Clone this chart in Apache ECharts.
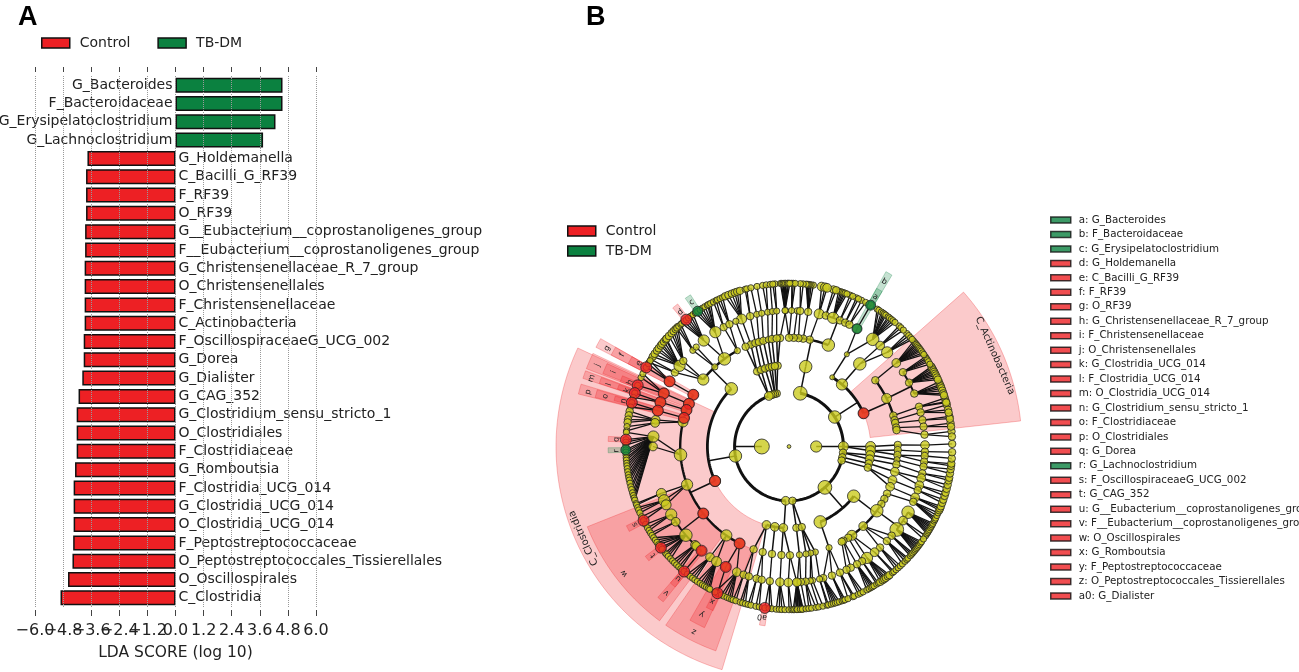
<!DOCTYPE html>
<html><head><meta charset="utf-8">
<style>html,body{margin:0;padding:0;background:#fff}#c{width:1299px;height:672px}</style>
<script src="https://cdn.jsdelivr.net/npm/echarts@6/dist/echarts.min.js"></script>
</head><body><div id="c"></div>
<script>
const categories=["G_Bacteroides","F_Bacteroidaceae","G_Erysipelatoclostridium","G_Lachnoclostridium","G_Holdemanella","C_Bacilli_G_RF39","F_RF39","O_RF39","G__Eubacterium__coprostanoligenes_group","F__Eubacterium__coprostanoligenes_group","G_Christensenellaceae_R_7_group","O_Christensenellales","F_Christensenellaceae","C_Actinobacteria","F_OscillospiraceaeG_UCG_002","G_Dorea","G_Dialister","G_CAG_352","G_Clostridium_sensu_stricto_1","O_Clostridiales","F_Clostridiaceae","G_Romboutsia","F_Clostridia_UCG_014","G_Clostridia_UCG_014","O_Clostridia_UCG_014","F_Peptostreptococcaceae","O_Peptostreptococcales_Tissierellales","O_Oscillospirales","C_Clostridia"];
const tbdmScores=[4.57,4.57,4.27,3.74,null,null,null,null,null,null,null,null,null,null,null,null,null,null,null,null,null,null,null,null,null,null,null,null,null];
const controlScores=[null,null,null,null,-3.76,-3.82,-3.82,-3.82,-3.86,-3.86,-3.88,-3.88,-3.88,-3.88,-3.92,-3.92,-3.98,-4.14,-4.22,-4.22,-4.22,-4.29,-4.35,-4.35,-4.35,-4.37,-4.40,-4.59,-4.91];
const keyNames=["a: G_Bacteroides","b: F_Bacteroidaceae","c: G_Erysipelatoclostridium","d: G_Holdemanella","e: C_Bacilli_G_RF39","f: F_RF39","g: O_RF39","h: G_Christensenellaceae_R_7_group","i: F_Christensenellaceae","j: O_Christensenellales","k: G_Clostridia_UCG_014","l: F_Clostridia_UCG_014","m: O_Clostridia_UCG_014","n: G_Clostridium_sensu_stricto_1","o: F_Clostridiaceae","p: O_Clostridiales","q: G_Dorea","r: G_Lachnoclostridium","s: F_OscillospiraceaeG_UCG_002","t: G_CAG_352","u: G__Eubacterium__coprostanoligenes_group","v: F__Eubacterium__coprostanoligenes_group","w: O_Oscillospirales","x: G_Romboutsia","y: F_Peptostreptococcaceae","z: O_Peptostreptococcales_Tissierellales","a0: G_Dialister"];
const keyTbdm=["a: G_Bacteroides","b: F_Bacteroidaceae","c: G_Erysipelatoclostridium","r: G_Lachnoclostridium"];

// Cladogram: each group = [parent angle, node size, child angles (or [angle,size]), optional 'arc']
const ring1=[[0,9,[[180,12],0],'none']];
const ring2=[
[180,6,[[190,10],103,105,107,109,[111.8,7],[266.5,7]],'arc'],
[0,6,[[78,11],[32.8,10],[0,8],-6.5,-11.5,-15,[-48.7,11],[-86.4,6]],'arc']];
const ring3=[
[190,9,[[135,10],205],'arc'],
[111.8,6,[113,110]],[107,6,[107]],[105,6,[104,102]],[103,6,[98,100]],
[78,10,[78.2]],
[32.8,8,[[49.5,9],[58,4],24],'arc'],
[0,8,[0,-3]],[-6.5,7,[-6,-9]],[-11.5,6,[-12]],[-15,6,[-15]],
[-48.7,10,[-37.5,-67.5],'arc'],
[-86.4,6,[-84.8,-81]],
[266.5,7,[254,260,266],'arc']];
const ring4=[
[135,8,[[142,9],[133,5],[126.4,10],[118.3,5]],'arc'],
[113,6,[110.5,113.5]],[110,6,[108]],[107,6,[106]],[104,6,[103.6]],[102,5,[101]],[100,6,[99]],[98,6,[94.7,96.5]],
[78.2,6,[[68.8,10],79,82.5,85,87.5,90],'arc'],
[49.5,10,[49.4]],[58,4,[57.9]],
[24,6,[37.5,[26.2,8],16.5,14,12.5,10,8.7],'arc'],
[0,6,[0.8]],[-3,6,[-1.9,-4.5]],[-6,5,[-7]],[-9,6,[-9.5]],[-12,7,[-13.4]],[-15,7,[-18,-21.7]],
[-37.5,6,[-25.7,-28.8,-31.9,[-36.2,10],[-47,7],[-54.7,8],-57,-60,-61],'arc'],
[-67.5,5,[-68.4]],
[-84.8,5,[-84.5]],[-81,5,[-76,-78.5,-81]],
[205,8,[151.6,156.9,160.4,164.8,167,[184.4,10],[200.5,9],218,[234.8,9],243],'arc'],
[254,6,[251,256]],[260,6,[261]],[266,6,[266,270.5]]];
const ring5=[
[142,6,[147,[143.6,9],141]],[133,5,[135,133]],[126.4,7,[[128.8,9],[122.8,9]]],[118.3,6,[118.7,116]],[110.5,6,[[110.4,8]]],[113.5,5,[113]],[108,6,[106.6]],[106,5,[103.7]],[103.6,5,[101.6]],[101,5,[99]],[99,5,[97]],[96.5,5,[95.2]],[94.7,5,[91.4]],
[90,5,[88.9,91.7]],[87.5,5,[86.5]],[85,6,[85.3]],[82.5,6,[81.9]],[79,8,[77.2]],
[68.8,6,[74.3,[71.1,9],68,65.6,63.6],'arc'],
[57.9,7,[60,[52,10]]],[49.4,7,[47.9,[43.8,9]]],
[37.5,7,[37.9]],[26.2,6,[33.1,28,22.9],'arc'],[16.5,6,[17]],[14,6,[14.5]],[12.5,6,[11.2]],[10,6,[8.4]],[8.7,6,[5]],
[0.8,7,[0.6]],[-1.9,6,[-2.2]],[-4.5,6,[-4,-6.4]],[-7,6,[-8.5]],[-9.5,6,[-11.4]],[-13.4,7,[-13.5,-16.6]],[-18,6,[-18.8]],[-21.7,7,[-22]],
[-25.7,6,[-24]],[-36.2,7,[[-28.9,10],[-37.6,11],-33],'arc'],[-47,6,[-41,-44,-48]],[-54.7,7,[[-55,9],-51]],[-57,6,[-57.5]],[-60,6,[-60,-63]],[-61,6,[-65]],[-68.4,6,[-68,-71.6,-75.4]],
[-76,5,[-77]],[-78.5,5,[-80,-81]],[-81,6,[-83]],[-84.5,6,[-86.5,-85]],
[151.6,8,[151.4]],[156.9,8,[157]],[160.4,8,[161]],[164.8,8,[164.7]],[167,7,[168.7,170]],[184.4,7,[[175.8,9],180]],[200.5,8,[200.2,[203.3,9],205.4]],[218,7,[[210,9],213.6,[220.7,10],226.3,227,230],'arc'],[234.8,7,[234.5,[237.8,8]]],[243,7,[242.3,247.4]],
[251,6,[250.5,252.8]],[256,6,[256.2,258.4]],[261,6,[261.9]],[266,7,[266.2]],[270.5,7,[269.7,273.3]]];
const ring6=[
[147,5,[149,147.7]],[143.6,6,[146.6,145.4,144,143,141.8,141,140,139,138.6]],[141,6,[137.4,136,135,134,133]],[135,5,[133.5,132.5,131.5]],
[128.8,5,[131,130,129,128,127,126]],[122.8,5,[125,124,123,122,121,120,119.5,118.7]],[118.7,5,[117.6,116.5]],[116,5,[116,115,114]],[110.4,6,[113,111.8,110.5,109.4,108.5,107.5]],[106.6,5,[105.6,105]],[103.7,5,[103.5]],[101.6,5,[101.3]],[99,5,[99.3,98]],[97,5,[96.6]],[95.2,5,[94.9,95.7]],
[151.4,5,[151,149.5,148.3]],[157,5,[158,155,153.5]],[161,5,[160.9,162.5]],[164.7,5,[164.4,166]],[168.7,6,[167.5,169,170.5,171.5]],[170,5,[173,174.5]],
[175.8,5,[175,177.6,178.5,179.5,181.2,182,183,184,184.8,185.9,186.8,187.8,188.9,190,191,191.9,193,194.3,195.3,196.5,197.5,198.4,199.2]],
[200.2,5,[200.5,201]],[203.3,5,[202,202.9,204]],[205.4,5,[205.5,207]],[210,5,[208.5,209.9,211]],[213.6,5,[212,213]],[220.7,5,[214,215,216,217,218.3,219,220.7,221.5,222.3,223.5]],[226.3,5,[224.5,225.5,226.5]],[227,5,[227.5,228.5]],[230,5,[230]],[234.5,5,[231.5,232.7,233.8,234.8]],[237.8,5,[235.8,237,238,238.8,239.6,240.4,241]],[242.3,5,[244]],[247.4,5,[243,245.5,246.5,247.7,248.6,249.4]],[250.5,5,[250,251]],[252.8,5,[252.6,253.5,254.5]],[256.2,5,[255.5,256.5]],[258.4,5,[258.3,259.5]],[261.9,5,[261.5,263,264]],[266.2,5,[265.5,266.6,267.5,268.6]],[269.7,5,[270,271]],[273.3,5,[271.5,272,272.7,273.3,273.8,274.4,275]],
[-86.5,5,[-87.1,-86,-85.3]],[-85,5,[-84]],[-83,5,[-83,-82,-80.5]],[-81,5,[-79.5]],[-80,5,[-78]],[-77,5,[-76.5,-76]],[-75.4,5,[-75,-74.2,-73.5,-72.8,-72]],[-71.6,5,[-71,-70.4,-69.9]],[-68,5,[-68.8,-67,-66.5]],[-65,5,[-64.9,-64,-63]],[-60,5,[-61.5,-60.6,-59.8,-59.2,-58.6]],[-57.5,5,[-57.5,-56.8]],[-55,6,[-56,-55,-54.3,-53.6,-52.7,-52]],[-51,5,[-50.6,-50]],[-48,5,[-49,-48,-47]],[-44,5,[-46,-44.7,-43.8,-43.2]],[-41,5,[-42,-41.3,-40.7]],[-37.6,5,[-40,-39.4,-38.8,-38.2,-37.6,-37,-36.3,-35.7]],[-33,5,[-33.2,-34.5]],[-28.9,5,[-32.4,-31.8,-31.2,-30.6,-29.9,-29.3,-28.7,-28.1]],[-24,5,[-27.2,-26.6,-26,-25,-24]],[-22,6,[-23,-22.3,-21.5]],[-18.8,6,[-20.2,-19]],[-16.6,6,[-17.6,-16.4]],[-13.5,6,[-15,-13.6]],[-11.4,6,[-12,-11]],[-8.5,6,[-9.5,-8]],[-6.4,6,[-6.8,-6]],[-4,6,[-4.2]],[-2.2,6,[-2]],[0.6,6,[0.9]],
[5,6,[5.3,3.5]],[8.4,6,[8.2,7]],[11.2,6,[10.6,9.8]],[14.5,6,[14.8,13,12]],[17,6,[17.2,16,15.6]],[22.9,6,[23.3,22.3,21.6,20.9,20,19,18.3]],[28,6,[29.3,28.6,27.8,27.2,26.5,25.8,25,24.2]],[33.1,5,[33.4,32.7,32,31.3,30.3]],[37.9,5,[40.2,39.4,38.8,38.2,37.6,37,36.4,35.8,35,34.3]],[43.8,5,[43.8,42.8,41.8,41]],[47.9,5,[47.6,46.7,45.5]],[52,5,[57.3,56.6,55.5,54.8,54.2,53.6,52.6,52,51.2,50.4,49.5]],[60,6,[60]],[63.6,5,[63.6,62]],[65.6,5,[65.6,64.8]],[68,5,[68,67]],[71.1,5,[72.3,71.6,71,70.4,69.9,69.2]],[74.3,6,[74.2,73.2]],[77.2,7,[78.5,77.3,76.5]],[81.9,5,[81.4,82.2,82.8,83.2,83.6,84]],[85.3,5,[85,86]],[88.9,5,[89,88.5,87.8]],[91.7,5,[93,92.6,92.1,91.7,91.2,90.6,90.2,89.7]]];
const rootNode=[[0,0,3]];
const controlNodes=[[3,24],[3,205],[4,151.6],[5,151.4],[6,151],[4,156.9],[5,157],[6,158],[4,160.4],[5,161],[6,160.9],[4,164.8],[5,164.7],[6,164.4],[6,177.6],[6,207],[6,218.3],[6,230],[5,230],[4,218],[4,243],[5,242.3],[6,244],[6,261.5],[6,129]];
const tbdmNodes=[[5,60],[6,60],[6,124],[6,181.2]];
// Highlight sectors: [inner level, outer level, start angle, end angle]
const controlSectors=[[3,8.566,6.3,41.5],[3,8.566,155,253.3],[4,7.98,201.7,233.4],[4,7.98,235.4,250.3],[5,7.35,240.3,245],[6,6.65,242.8,245.2],
[4,7.98,150.2,152.8],[5,7.35,150.2,152.8],[6,6.65,150.2,152.8],[4,7.98,154.6,159],[5,7.35,155.5,158.6],[6,6.65,157,159],[4,7.98,159.6,161.7],[5,7.35,159.8,161.6],[6,6.65,160,161.5],[4,7.98,163.3,166],[5,7.35,163.5,165.8],[6,6.65,163.8,165.3],
[6,6.65,176.8,178.4],[6,6.65,206,208],[6,6.65,217.4,219.2],[6,6.65,229,231],[5,7.35,229,231],[6,6.65,260.6,262.4],[6,6.65,128,130]];
const tbdmSectors=[[6,6.65,59,61],[5,7.35,59,61],[6,6.65,123,125],[6,6.65,180.4,182]];
const cladeLabelNames=["C_Actinobacteria","C_Clostridia"];
const cladeLabelPos=[[8.27,23.8],[8.27,204]];
const letterNames=["a","b","c","d","e","f","g","h","i","j","k","l","m","n","o","p","q","r","s","t","u","v","w","x","y","z","a0"];
const letterPos=[[6.35,60],[7,60],[6.4,124],[6.35,129],[6.3,151],[7,151.3],[7.6,151.6],[6.3,158],[7,157],[7.65,157],[6.3,160.9],[7,161],[7.68,161],[6.3,164.6],[7,164.7],[7.65,164.8],[6.35,177.6],[6.35,181.5],[6.35,206.9],[6.4,218.7],[6.33,230],[7.02,230],[7.65,217.6],[6.35,243.6],[6.95,242.5],[7.65,242.8],[6.35,261]];

const norm=a=>((a%360)+360)%360;
const nodes=[[...rootNode[0]]],branches=[];
const arcWidth=[0,0,3,2.8,2.4,2,1.5];
[ring1,ring2,ring3,ring4,ring5,ring6].forEach((ring,i)=>{
  const k=i+1;
  ring.forEach(g=>{
    const [p,size,kids,kind]=g;
    const ang=kids.map(c=>Array.isArray(c)?c[0]:c);
    kids.forEach((c,j)=>{
      const s=Array.isArray(c)?c[1]:size;
      nodes.push([k,norm(ang[j]),s]);
      if(!kind) branches.push([k-1,norm(p),k,norm(ang[j]),k>=5?1.3:1.5,0]);
    });
    if(kind==='arc'){
      branches.push([k-1,norm(p),k,norm(p),1.5,0]);
      branches.push([k,Math.min(...ang),k,Math.max(...ang),arcWidth[k],1]);
    }
  });
});
const RED='#ED2024',GREEN='#0B8140',YEL='#CBCB1E';

function renderBranch(params,api){
  const l1=api.value(0),a1=api.value(1),l2=api.value(2),a2=api.value(3),w=api.value(4),isArc=api.value(5);
  const pts=[];
  if(isArc){
    for(let a=a1;a<a2;a+=1.5) pts.push(api.coord([l1,norm(a)]));
    pts.push(api.coord([l1,norm(a2)]));
  }else{
    pts.push(api.coord([l1,a1]),api.coord([l2,a2]));
  }
  return {type:'polyline',shape:{points:pts},style:{stroke:'#111',lineWidth:w,fill:null}};
}
function renderSector(color){return function(params,api){
  const l1=api.value(0),l2=api.value(1),a1=api.value(2),a2=api.value(3);
  const pts=[];
  for(let a=a1;a<a2;a+=1) pts.push(api.coord([l2,a]));
  pts.push(api.coord([l2,a2]));
  for(let a=a2;a>a1;a-=1) pts.push(api.coord([l1,a]));
  pts.push(api.coord([l1,a1]));
  return {type:'polygon',shape:{points:pts},style:{fill:'rgba('+color+',0.24)',stroke:'rgba('+color+',0.28)',lineWidth:1}};
};}
function renderText(names,size,color){return function(params,api){
  const l=api.value(0),a=api.value(1),p=api.coord([l,a]);
  return {type:'text',x:p[0],y:p[1],rotation:(a-90)*Math.PI/180,
    style:{text:names[params.dataIndex],x:0,y:0,fill:color,font:size+'px "DejaVu Sans"',textAlign:'center',textVerticalAlign:'middle'}};
};}

const FONT='"DejaVu Sans"';
const ticksAxis={type:'value',min:-6,max:6,interval:1.2};
const blackBorder={borderColor:'#111',borderWidth:1.5};
const tickFmt=v=>v.toFixed(1).replace('-','\u2212');
const series=[
 {name:'Control',type:'bar',data:controlScores,barWidth:15,barGap:'-100%',xAxisIndex:0,yAxisIndex:0,z:2,
  itemStyle:{color:RED,...blackBorder},
  label:{show:true,position:'right',distance:3,formatter:p=>categories[p.dataIndex],fontFamily:FONT,fontSize:14,color:'#222'}},
 {name:'TB-DM',type:'bar',data:tbdmScores,barWidth:15,barGap:'-100%',xAxisIndex:0,yAxisIndex:0,z:2,
  itemStyle:{color:GREEN,...blackBorder},
  label:{show:true,position:'left',distance:3,formatter:p=>categories[p.dataIndex],fontFamily:FONT,fontSize:14,color:'#222'}},
 {type:'custom',coordinateSystem:'polar',silent:true,z:1,encode:{radius:0,angle:2},data:controlSectors,renderItem:renderSector('237,32,36')},
 {type:'custom',coordinateSystem:'polar',silent:true,z:1,encode:{radius:0,angle:2},data:tbdmSectors,renderItem:renderSector('11,129,64')},
 {type:'custom',coordinateSystem:'polar',silent:true,z:2,encode:{radius:0,angle:1},data:branches,renderItem:renderBranch},
 {type:'scatter',coordinateSystem:'polar',silent:true,z:3,data:nodes,symbolSize:v=>v[2]*1.25,itemStyle:{color:YEL,borderColor:'#222',borderWidth:1}},
 {name:'Control',type:'scatter',coordinateSystem:'polar',silent:true,z:4,data:controlNodes,symbolSize:11,itemStyle:{color:RED,borderColor:'#222',borderWidth:1}},
 {name:'TB-DM',type:'scatter',coordinateSystem:'polar',silent:true,z:4,data:tbdmNodes,symbolSize:10,itemStyle:{color:GREEN,borderColor:'#222',borderWidth:1}},
 {type:'custom',coordinateSystem:'polar',silent:true,z:5,encode:{radius:0,angle:1},data:cladeLabelPos,renderItem:renderText(cladeLabelNames,10,'#222')},
 {type:'custom',coordinateSystem:'polar',silent:true,z:5,encode:{radius:0,angle:1},data:letterPos,renderItem:renderText(letterNames,8,'#222')}
];
keyNames.forEach(n=>series.push({name:n,type:'scatter',coordinateSystem:'polar',data:[],itemStyle:{color:keyTbdm.includes(n)?GREEN:RED}}));

const option={
 animation:false,backgroundColor:'#fff',
 title:[
  {text:'A',left:13,top:-1,textStyle:{fontFamily:'"Liberation Sans"',fontWeight:'bold',fontSize:27,color:'#000'}},
  {text:'B',left:581,top:-1,textStyle:{fontFamily:'"Liberation Sans"',fontWeight:'bold',fontSize:27,color:'#000'}}
 ],
 legend:[
  {data:['Control','TB-DM'],left:41,top:36,orient:'horizontal',itemWidth:28,itemHeight:10,itemGap:27,icon:'rect',selectedMode:false,padding:0,
   textStyle:{fontFamily:FONT,fontSize:14,color:'#222',padding:[0,0,0,5]},itemStyle:blackBorder},
  {data:['Control','TB-DM'],left:567,top:224,orient:'vertical',itemWidth:28,itemHeight:10,itemGap:6,icon:'rect',selectedMode:false,padding:0,
   textStyle:{fontFamily:FONT,fontSize:14,color:'#222',padding:[0,0,0,5]},itemStyle:blackBorder},
  {data:keyNames,left:1050,top:215,orient:'vertical',itemWidth:20,itemHeight:6,itemGap:4.46,icon:'rect',selectedMode:false,padding:0,
   textStyle:{fontFamily:FONT,fontSize:10.3,color:'#222',padding:[0,0,0,3]},itemStyle:blackBorder}
 ],
 grid:{left:35,right:983,top:76,bottom:65},
 xAxis:[
  {...ticksAxis,position:'bottom',offset:3,z:10,
   name:'LDA SCORE (log 10)',nameLocation:'middle',nameGap:35,nameTextStyle:{fontFamily:FONT,fontSize:15.5,color:'#222'},
   axisLine:{show:false},axisTick:{show:true,length:6,lineStyle:{color:'#444',width:1}},
   axisLabel:{show:true,fontFamily:FONT,fontSize:16,color:'#222',margin:13,hideOverlap:false,showMinLabel:true,showMaxLabel:true,formatter:tickFmt},
   splitLine:{show:true,lineStyle:{color:'#999',type:'dotted',width:1}}},
  {...ticksAxis,position:'top',offset:4,axisLine:{show:false},axisLabel:{show:false},axisTick:{show:true,length:5,lineStyle:{color:'#444',width:1}},splitLine:{show:false}},
  {...ticksAxis,position:'bottom',offset:3,axisLine:{show:false},axisTick:{show:false},splitLine:{show:false},
   axisLabel:{show:true,fontFamily:FONT,fontSize:16,color:'#222',margin:13,hideOverlap:false,formatter:v=>tickFmt(v)==='\u22124.8'?tickFmt(v):''}}
 ],
 yAxis:{type:'category',data:categories,inverse:true,show:false},
 polar:{center:[789,446.5],radius:233},
 radiusAxis:{type:'value',min:0,max:8.566,show:false,axisLine:{show:false},axisTick:{show:false},axisLabel:{show:false},splitLine:{show:false}},
 angleAxis:{type:'value',min:0,max:360,startAngle:0,clockwise:false,show:false,axisLine:{show:false},axisTick:{show:false},axisLabel:{show:false},splitLine:{show:false}},
 series
};
const chart=echarts.init(document.getElementById('c'),null,{renderer:'canvas'});
chart.setOption(option);
</script></body></html>
